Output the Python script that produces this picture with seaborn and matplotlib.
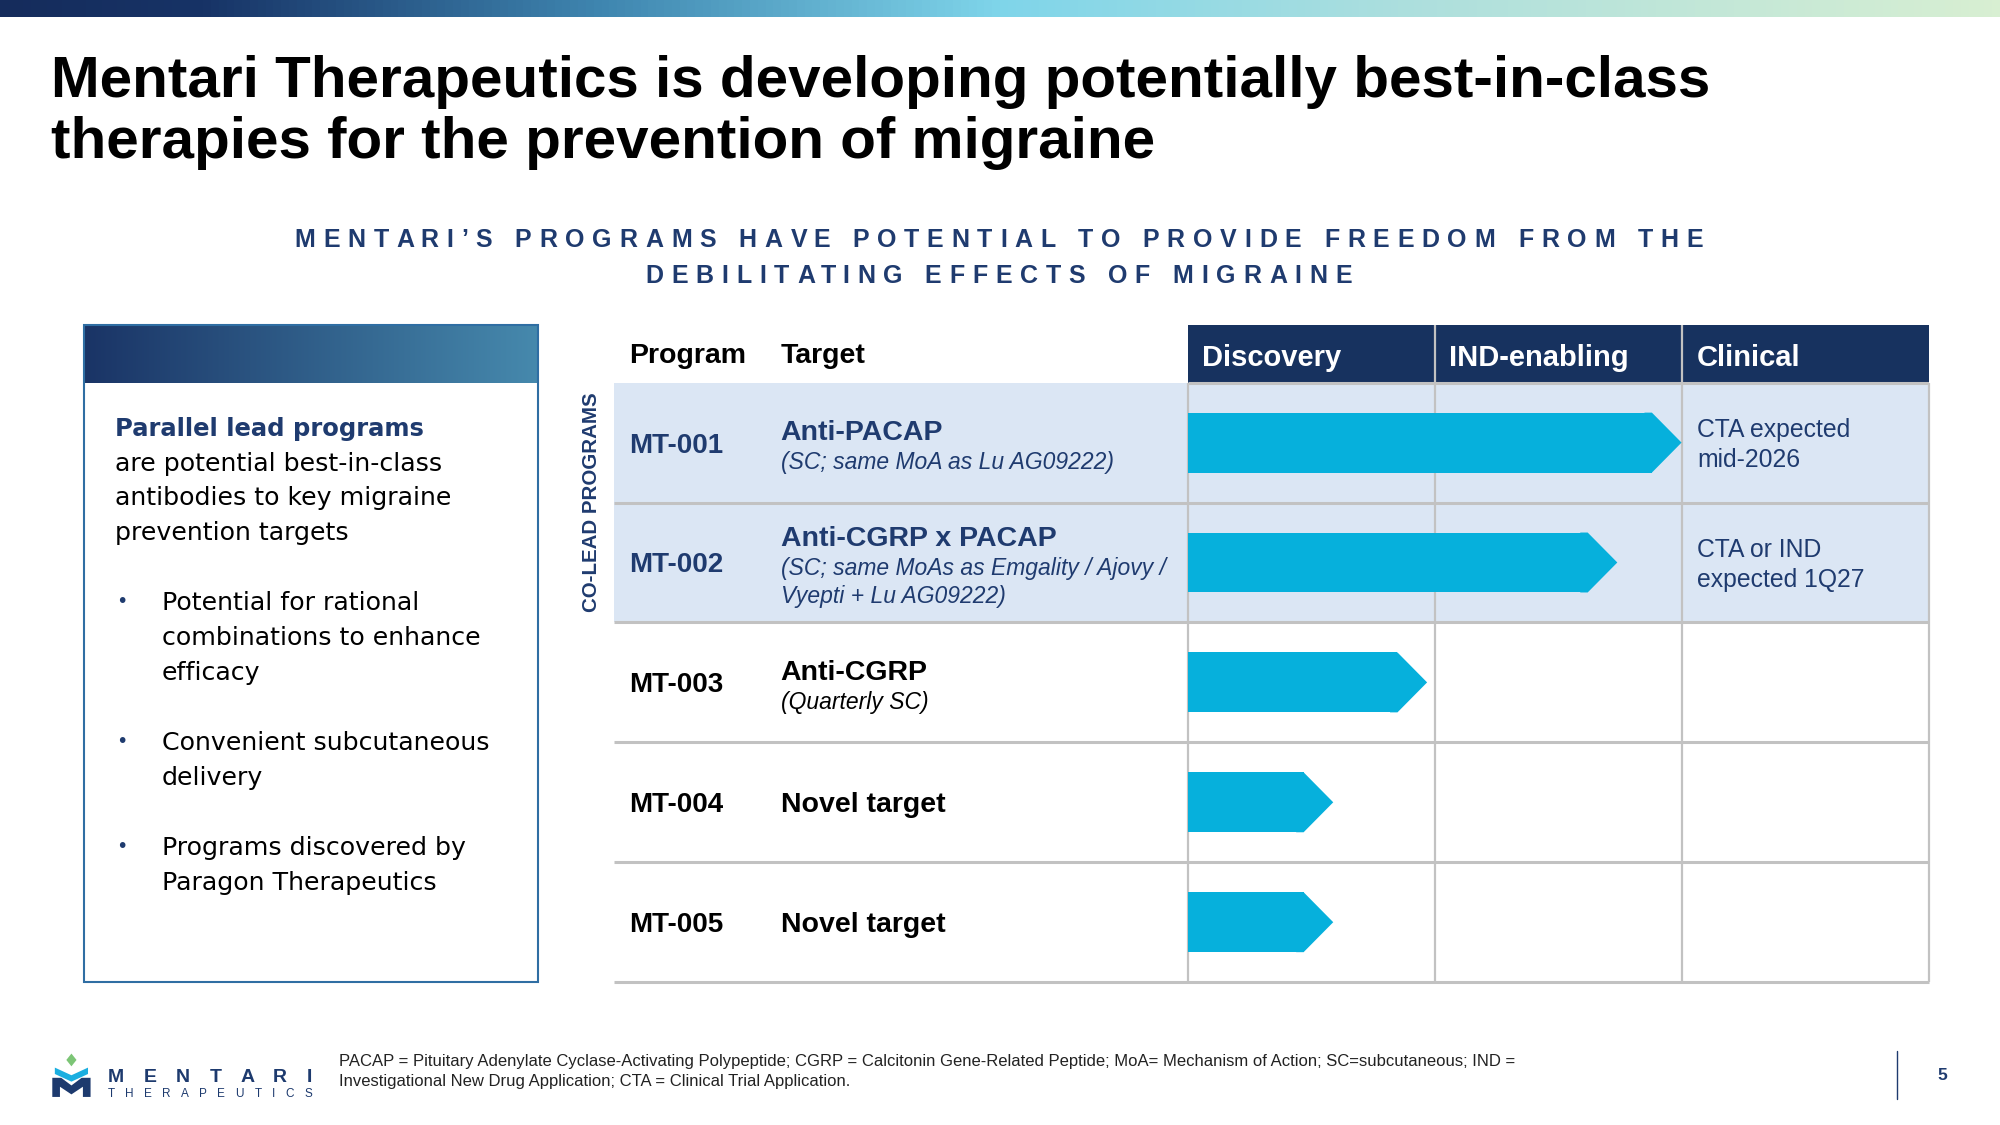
import numpy as np
import pandas as pd
import seaborn as sns
import matplotlib.pyplot as plt
from matplotlib.patches import Rectangle, Polygon
from matplotlib.colors import LinearSegmentedColormap
from matplotlib.font_manager import FontProperties

# ---------------------------------------------------------------- data
programs = ['MT-001', 'MT-002', 'MT-003', 'MT-004', 'MT-005']
targets = ['Anti-PACAP', 'Anti-CGRP x PACAP', 'Anti-CGRP', 'Novel target', 'Novel target']
target_notes = [['(SC; same MoA as Lu AG09222)'],
                ['(SC; same MoAs as Emgality / Ajovy /', 'Vyepti + Lu AG09222)'],
                ['(Quarterly SC)'],
                [],
                []]
stages = ['Discovery', 'IND-enabling', 'Clinical']
progress = [2.0, 1.74, 0.97, 0.59, 0.59]   # arrow tip, in stage widths
co_lead = [True, True, False, False, False]
milestones = [['CTA expected', 'mid-2026'], ['CTA or IND', 'expected 1Q27'], [], [], []]

title_lines = ['Mentari Therapeutics is developing potentially best-in-class',
               'therapies for the prevention of migraine']
subtitle_lines = ['MENTARI\u2019S PROGRAMS HAVE POTENTIAL TO PROVIDE FREEDOM FROM THE',
                  'DEBILITATING EFFECTS OF MIGRAINE']
panel_lead = 'Parallel lead programs'
panel_intro = ['are potential best-in-class', 'antibodies to key migraine', 'prevention targets']
bullets = [['Potential for rational', 'combinations to enhance', 'efficacy'],
           ['Convenient subcutaneous', 'delivery'],
           ['Programs discovered by', 'Paragon Therapeutics']]
footnote_lines = ['PACAP = Pituitary Adenylate Cyclase-Activating Polypeptide; CGRP = Calcitonin '
                  'Gene-Related Peptide; MoA= Mechanism of Action; SC=subcutaneous; IND =',
                  'Investigational New Drug Application; CTA = Clinical Trial Application.']
page_no = '5'

# ---------------------------------------------------------------- style
NAVY = '#17325f'
TXT_NAVY = '#1f3b6f'
CYAN = '#06b0dc'
LIGHT = '#dbe6f4'
GRID = '#c2c2c2'
HEAD = 0.12          # arrow head length (stage widths)

sns.set_theme(style='white')
plt.rcParams['font.family'] = ['Liberation Sans', 'DejaVu Sans']

fig = plt.figure(figsize=(20, 11.25), dpi=100)
W, H = 1568, 882     # layout measured on a 1568 px wide copy


def D(x, y):
    return x / W, 1 - y / H


def spaced(text, xc, yb, size, track, color, weight='bold'):
    # letter-spaced text, one glyph at a time
    fp = FontProperties(family=['Liberation Sans'], size=size, weight=weight)
    r = fig.canvas.get_renderer()

    def w(s):
        return r.get_text_width_height_descent(s, fp, ismath=False)[0]
    base = w('||')
    lefts = [w('|' + text[:i] + '|') - base for i in range(len(text))]
    total = w('|' + text + '|') - base + track * (len(text) - 1)
    x0 = xc * 2000 / W - total / 2
    for i, ch in enumerate(text):
        if ch == ' ':
            continue
        x = x0 + lefts[i] + track * i
        fig.text(x / 2000, 1 - yb / H, ch, fontproperties=fp, color=color,
                 ha='left', va='baseline')


# top gradient strip
top_cmap = LinearSegmentedColormap.from_list(
    'top', [(0, '#152c5c'), (0.1, '#173366'), (0.3, '#3f86b0'), (0.5, '#7fd5ea'),
            (0.7, '#acdfde'), (1, '#d8efd2')])
bar_ax = fig.add_axes([0, 1 - 13 / H, 1, 13 / H])
bar_ax.imshow(np.linspace(0, 1, 256)[None, :], aspect='auto', cmap=top_cmap, extent=[0, 1, 0, 1])
bar_ax.set_axis_off()

# title + subtitle
for line, yb in zip(title_lines, [76, 124]):
    fig.text(*D(40, yb), line, fontsize=42, fontweight='bold', color='black', va='baseline')
for line, yb in zip(subtitle_lines, [194, 222]):
    spaced(line, 783, yb, 18, 7.8, TXT_NAVY)

# ---------------------------------------------------------------- left panel
pl, pr, pt, pb = 66, 422, 255, 770
fig.patches.append(Rectangle(D(pl, pb), (pr - pl) / W, (pb - pt) / H, transform=fig.transFigure,
                             fill=False, edgecolor='#2f6ea3', lw=1.5))
hdr_ax = fig.add_axes([pl / W, 1 - 300 / H, (pr - pl) / W, 45 / H])
hdr_ax.imshow(np.linspace(0, 1, 256)[None, :], aspect='auto', extent=[0, 1, 0, 1],
              cmap=LinearSegmentedColormap.from_list('hdr', ['#1a3466', '#4689ad']))
hdr_ax.set_axis_off()

pfont = ['DejaVu Sans']
fig.text(*D(90, 342), panel_lead, family=pfont, fontsize=17.5, fontweight='bold',
         color=TXT_NAVY, va='baseline')
for k, line in enumerate(panel_intro):
    fig.text(*D(90, 369 + 27 * k), line, family=pfont, fontsize=18.2, color='black', va='baseline')
for lines, yb in zip(bullets, [478, 588, 670]):
    fig.text(*D(91, yb - 2), '\u2022', family=pfont, fontsize=14, color=TXT_NAVY, va='baseline')
    for k, line in enumerate(lines):
        fig.text(*D(127, yb + 27.5 * k), line, family=pfont, fontsize=18.2, color='black',
                 va='baseline')

# ---------------------------------------------------------------- table
ax = fig.add_axes([481 / W, 1 - 770 / H, (1512 - 481) / W, (770 - 255) / H])
col_w = (1512 - 931) / 3
x_left = -(931 - 481) / col_w
hdr_h = 45 / 94

df = pd.DataFrame({'program': programs, 'tip': progress})
df['body'] = df['tip'] - HEAD
sns.barplot(data=df, x='body', y='program', order=programs, orient='h', color=CYAN,
            saturation=1, width=0.5, linewidth=0, errorbar=None, ax=ax, zorder=3)
for i, tip in enumerate(progress):
    b = tip - HEAD
    ax.add_patch(Polygon([[b - 0.03, i - 0.25], [b, i - 0.25], [tip, i], [b, i + 0.25],
                          [b - 0.03, i + 0.25]],
                         closed=True, facecolor=CYAN, lw=0, zorder=3))

n = len(programs)
for i, lead in enumerate(co_lead):
    if lead:
        ax.axhspan(i - 0.5, i + 0.5, color=LIGHT, lw=0, zorder=0)
ax.add_patch(Rectangle((0, -0.5 - hdr_h), len(stages), hdr_h, facecolor=NAVY, lw=0, zorder=1))
ax.vlines(range(1, len(stages)), -0.5 - hdr_h, -0.5, color=GRID, lw=1.6, zorder=2)
ax.vlines(range(len(stages) + 1), -0.5, n - 0.5, color=GRID, lw=1.6, zorder=2, clip_on=False)
ax.hlines(-0.5, 0, len(stages), color=GRID, lw=2.2, zorder=2)
ax.hlines(np.arange(n) + 0.5, x_left, len(stages), color=GRID, lw=2.2, zorder=2, clip_on=False)

x_prog = (493 - 931) / col_w
x_tgt = (612 - 931) / col_w
ax.text(x_prog, -0.5 - 0.16, 'Program', fontsize=20.5, fontweight='bold', color='black',
        va='baseline', clip_on=False)
ax.text(x_tgt, -0.5 - 0.16, 'Target', fontsize=20.5, fontweight='bold', color='black',
        va='baseline', clip_on=False)
for k, st in enumerate(stages):
    ax.text(k + 0.06, -0.5 - 0.135, st, fontsize=21, fontweight='bold', color='white',
            va='baseline')

for i in range(n):
    c = TXT_NAVY if co_lead[i] else 'black'
    ax.text(x_prog, i, programs[i], fontsize=20, fontweight='bold', color=c,
            va='center_baseline')
    notes = target_notes[i]
    if notes:
        ny = i - 0.106 - 0.117 * (len(notes) - 1)
        ax.text(x_tgt, ny, targets[i], fontsize=20.5, fontweight='bold', color=c,
                va='center_baseline')
        for k, note in enumerate(notes):
            ax.text(x_tgt, ny + 0.255 + 0.234 * k, note, fontsize=16.5, style='italic', color=c,
                    va='center_baseline')
    else:
        ax.text(x_tgt, i, targets[i], fontsize=20.5, fontweight='bold', color=c,
                va='center_baseline')
    for k, m in enumerate(milestones[i]):
        ax.text(2.062, i - 0.122 + 0.244 * k, m, fontsize=17.8, color=TXT_NAVY,
                va='center_baseline')

lead_rows = [i for i, lead in enumerate(co_lead) if lead]
ax.text((464 - 931) / col_w, np.mean(lead_rows), 'CO-LEAD PROGRAMS', rotation=90,
        fontsize=14.8, fontweight='bold', color=TXT_NAVY, ha='center', va='center',
        clip_on=False)

ax.set_xlim(x_left, len(stages))
ax.set_ylim(n - 0.5, -0.5 - hdr_h)
ax.set_axis_off()

# ---------------------------------------------------------------- footer
def poly(pts, color):
    fig.patches.append(Polygon([D(x, y) for x, y in pts], closed=True, facecolor=color,
                               lw=0, transform=fig.transFigure))


poly([(56, 826), (60, 831), (56, 836), (52, 831)], '#7cc576')
poly([(43, 837), (56, 843), (69, 837), (69, 842), (56, 848), (43, 842)], '#1aaee0')
poly([(41, 845), (48, 845), (56, 851), (64, 845), (71, 845), (71, 860), (65, 860),
      (65, 852), (56, 858), (47, 852), (47, 860), (41, 860)], '#1d3a6e')
spaced('MENTARI', 164.5, 848, 14, 19.5, '#1d3a6e')
spaced('THERAPEUTICS', 164.5, 860, 8.5, 10.3, '#1d3a6e', weight='normal')

for k, line in enumerate(footnote_lines):
    fig.text(*D(266, 832 + 16 * k), line, fontsize=12, color='#222222', va='center')

fig.add_artist(plt.Line2D([1487 / W, 1487 / W], [1 - 824 / H, 1 - 862 / H],
                          transform=fig.transFigure, color=TXT_NAVY, lw=1))
fig.text(*D(1523, 843), page_no, fontsize=12.5, fontweight='bold', color=TXT_NAVY,
         ha='center', va='center')

fig.savefig('out.png', dpi=100)
